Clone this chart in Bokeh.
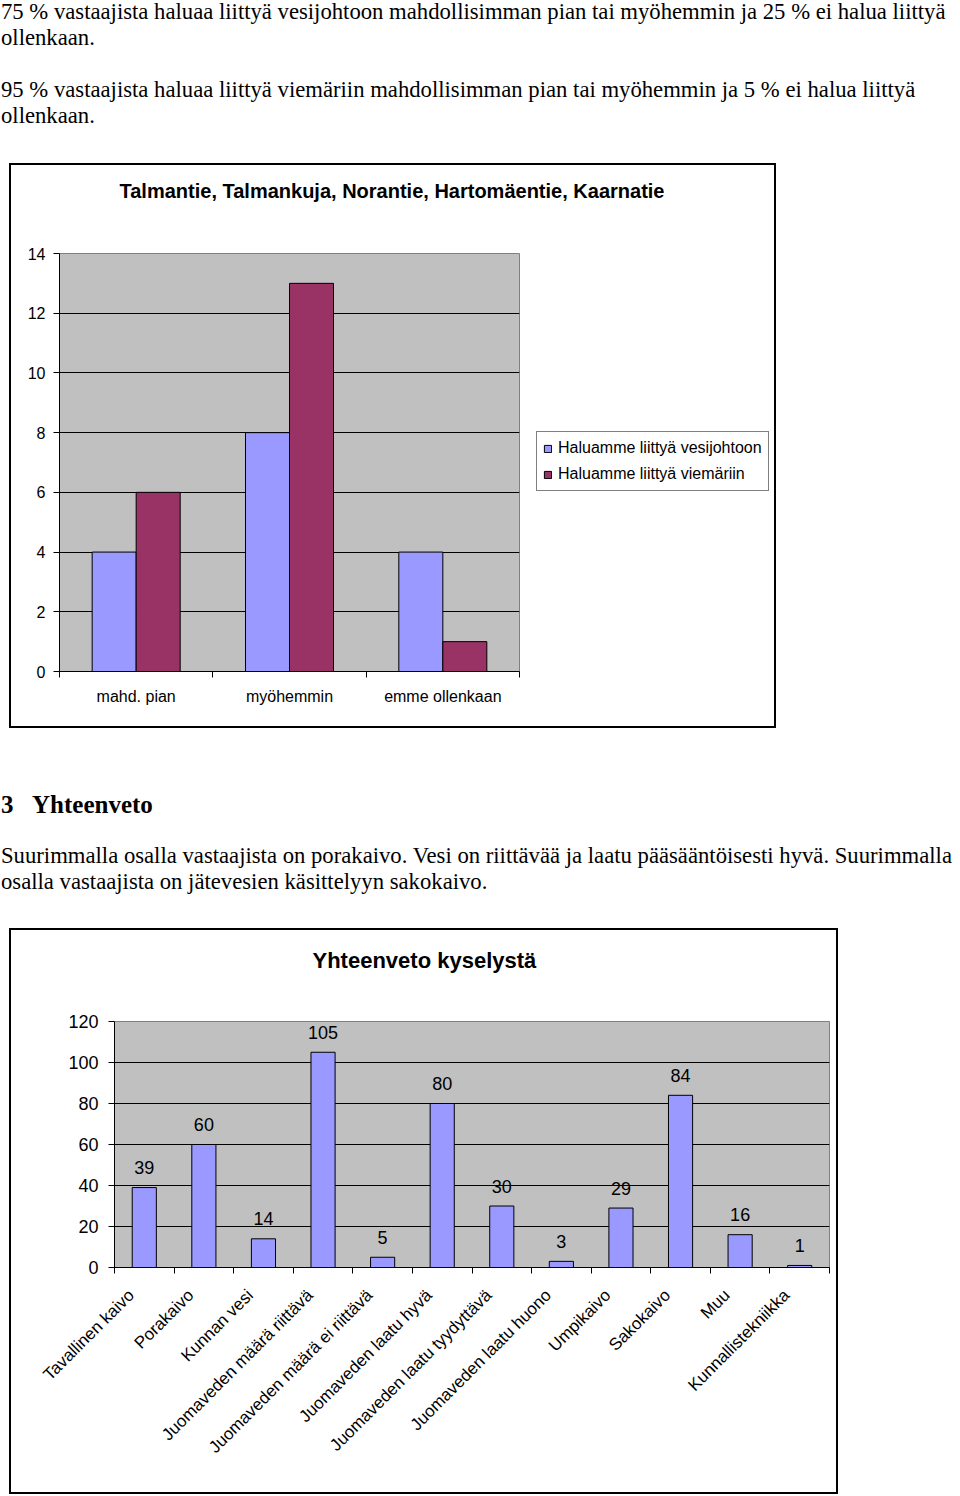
from math import pi
from bokeh.plotting import figure
from bokeh.models import (Range1d, LinearAxis, FixedTicker, Grid, Legend, LegendItem, Div,
                          ColumnDataSource, Title)
from bokeh.transform import dodge
from bokeh.embed import file_html
from bokeh.resources import INLINE
from bokeh.core.properties import value

SANS = "Liberation Sans"
SERIF = "Liberation Serif"

# ---------------- data ----------------
intro_paragraphs = [
    ["75 % vastaajista haluaa liittyä vesijohtoon mahdollisimman pian tai myöhemmin ja 25 % ei halua liittyä",
     "ollenkaan."],
    ["95 % vastaajista haluaa liittyä viemäriin mahdollisimman pian tai myöhemmin ja 5 % ei halua liittyä",
     "ollenkaan."],
]
section_number = "3"
section_title = "Yhteenveto"
summary_lines = [
    "Suurimmalla osalla vastaajista on porakaivo. Vesi on riittävää ja laatu pääsääntöisesti hyvä. Suurimmalla",
    "osalla vastaajista on jätevesien käsittelyyn sakokaivo.",
]

c1_title = "Talmantie, Talmankuja, Norantie, Hartomäentie, Kaarnatie"
c1_categories = ["mahd. pian", "myöhemmin", "emme ollenkaan"]
c1_series = ["Haluamme liittyä vesijohtoon", "Haluamme liittyä viemäriin"]
c1_vesijohto = [4, 8, 4]
c1_viemari = [6, 13, 1]
c1_y_ticks = [0, 2, 4, 6, 8, 10, 12, 14]

c2_title = "Yhteenveto kyselystä"
c2_categories = ["Tavallinen kaivo", "Porakaivo", "Kunnan vesi", "Juomaveden määrä riittävä",
                 "Juomaveden määrä ei riittävä", "Juomaveden laatu hyvä", "Juomaveden laatu tyydyttävä",
                 "Juomaveden laatu huono", "Umpikaivo", "Sakokaivo", "Muu", "Kunnallistekniikka"]
c2_values = [39, 60, 14, 105, 5, 80, 30, 3, 29, 84, 16, 1]
c2_y_ticks = [0, 20, 40, 60, 80, 100, 120]

BLUE = "#9999FF"
PLUM = "#993366"
PLOT_BG = "#C0C0C0"


def shift(left, top):
    return {"position": "relative", "left": f"{left}px", "top": f"{top}px"}


def slot_centers(cats):
    return [i + 0.5 for i in range(len(cats))]


def make_chart(size, box_styles, title, title_size, title_offset, gap, factors, y_ticks,
               fl, fr, ft, fb, ylab_size, ylab_standoff, xlab_size, xlab_standoff, xlab_orient,
               label_shift):
    n = len(factors)
    p = figure(**size, title=title,
               x_range=Range1d(0, n), y_range=Range1d(y_ticks[0], y_ticks[-1]),
               x_axis_location=None, y_axis_location=None,
               toolbar_location=None, output_backend="svg",
               min_border_left=fl, min_border_right=fr, min_border_top=ft, min_border_bottom=fb,
               background_fill_color=PLOT_BG, border_fill_color="white",
               outline_line_color="#808080", outline_line_width=1,
               styles=box_styles)
    p.title.align = "left"
    p.title.offset = title_offset
    p.title.standoff = 0
    p.title.vertical_align = "top"
    p.title.text_font = SANS
    p.title.text_font_style = "bold"
    p.title.text_font_size = title_size
    p.title.text_color = "black"
    # blank spacer between title and plot area
    p.add_layout(Title(text=" ", text_font_size="10px", standoff=gap), "above")
    # remove any default grids
    p.center = [r for r in p.center if not isinstance(r, Grid)]
    label_pos = [c + label_shift for c in slot_centers(factors)]
    x_axis = LinearAxis(ticker=FixedTicker(ticks=label_pos, minor_ticks=list(range(n + 1))),
                        major_label_overrides={c: f for c, f in zip(label_pos, factors)},
                        major_tick_line_color=None, major_tick_in=0, major_tick_out=0,
                        minor_tick_in=0, minor_tick_out=6, minor_tick_line_color="black",
                        axis_line_color="black",
                        major_label_standoff=xlab_standoff,
                        major_label_text_font=SANS,
                        major_label_text_font_size=xlab_size,
                        major_label_text_color="black",
                        major_label_orientation=xlab_orient)
    p.add_layout(x_axis, "below")
    y_axis = LinearAxis(ticker=FixedTicker(ticks=y_ticks),
                        major_tick_in=0, major_tick_out=6, minor_tick_line_color=None,
                        major_label_standoff=ylab_standoff,
                        major_label_text_font=SANS, major_label_text_font_size=ylab_size,
                        major_label_text_color="black",
                        axis_line_color="black", major_tick_line_color="black")
    p.add_layout(y_axis, "left")
    p.add_layout(Grid(dimension=1, ticker=FixedTicker(ticks=y_ticks[1:-1]),
                      grid_line_color="black", grid_line_width=1))
    return p


# ---------------- chart 1 ----------------
box1 = {**shift(9, -10), "border": "2px solid black", "width": "767px", "height": "565px",
        "box-sizing": "border-box", "overflow": "hidden"}
p1 = make_chart(dict(frame_width=460, frame_height=418), box1, c1_title, "20px", 60, 37,
                c1_categories, c1_y_ticks, 48, 255, 88, 55,
                "16px", 8, "16px", 10, "horizontal", 0)
src1 = ColumnDataSource(dict(x=slot_centers(c1_categories), vesi=c1_vesijohto, viem=c1_viemari))
bw = 0.287
r_vesi = p1.vbar(x=dodge("x", -bw / 2), top="vesi", width=bw, source=src1,
                 fill_color=BLUE, line_color="black", line_width=1)
r_viem = p1.vbar(x=dodge("x", bw / 2), top="viem", width=bw, source=src1,
                 fill_color=PLUM, line_color="black", line_width=1)
legend = Legend(items=[LegendItem(label=c1_series[0], renderers=[r_vesi]),
                       LegendItem(label=c1_series[1], renderers=[r_viem])],
                location=(17, 180), glyph_width=9, glyph_height=9, label_height=20,
                label_standoff=6, padding=6, spacing=6, margin=0,
                label_text_font=SANS, label_text_font_size="16px", label_text_color="black",
                border_line_color="black", border_line_width=1.5, background_fill_color="white",
                background_fill_alpha=1)
p1.add_layout(legend, "right")

# ---------------- chart 2 ----------------
box2 = {**shift(9, -20), "border": "2px solid black"}
p2 = make_chart(dict(width=829, height=566), box2, c2_title, "22px", 198, 34,
                c2_categories, c2_y_ticks, 103, 11, 91, 229,
                "18px", 10, "17px", 19, pi / 4, -0.22)
src2 = ColumnDataSource(dict(x=slot_centers(c2_categories), val=c2_values,
                             lbl=[str(v) for v in c2_values]))
p2.vbar(x="x", top="val", width=0.405, source=src2,
        fill_color=BLUE, line_color="black", line_width=1)
p2.text(x="x", y="val", text="lbl", source=src2, y_offset=-20,
        text_align="center", text_baseline="middle",
        text_font=value(SANS), text_font_size="18px", text_color="black")

# ---------------- text blocks ----------------
intro_html = ("<div style=\"font-family:'%s',serif;font-size:22.7px;line-height:26px;"
              "white-space:nowrap;color:#000;padding-left:2px;\">%s</div>"
              % (SERIF, "<br><br>".join("<br>".join(par) for par in intro_paragraphs)))
div1 = Div(text=intro_html, width=950, height=163, styles=shift(-6, -6))

summary_html = ("<div style=\"font-family:'%s',serif;color:#000;white-space:nowrap;padding-left:2px;\">"
                "<div style=\"font-size:25px;font-weight:bold;line-height:30px;padding-top:66px;\">"
                "<span style=\"display:inline-block;width:31px;\">%s</span>%s</div>"
                "<div style=\"font-size:22.7px;line-height:26px;margin-top:23px;\">%s</div></div>"
                % (SERIF, section_number, section_title, "<br>".join(summary_lines)))
div2 = Div(text=summary_html, width=950, height=200, styles=shift(-6, -19))

open("out.html", "w").write(file_html([div1, p1, div2, p2], INLINE))
